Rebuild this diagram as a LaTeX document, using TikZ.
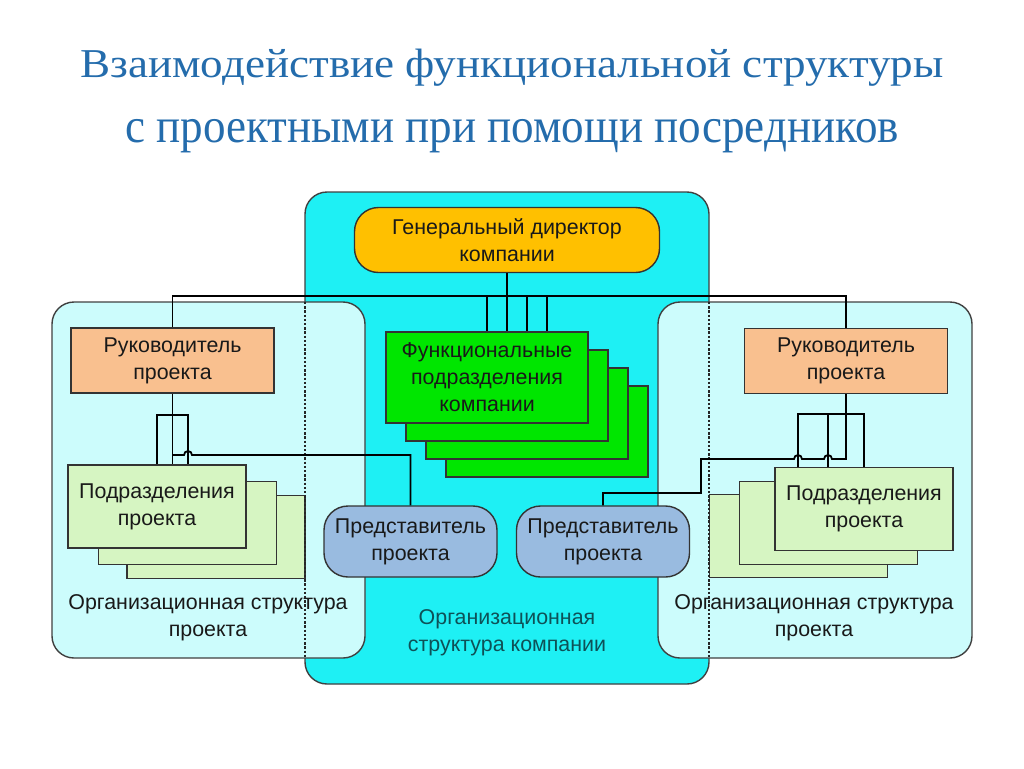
\documentclass[tikz,border=0pt]{standalone}
\usepackage{fontspec}
\setmainfont{Liberation Sans}
\newfontfamily\titlefont{Liberation Serif}[FakeStretch=1.1]
\newfontfamily\subtitlefont{Liberation Serif}[FakeStretch=0.92]
\usetikzlibrary{positioning}

\definecolor{compbg}{HTML}{1EF0F4}
\definecolor{projbg}{HTML}{CCFCFC}
\definecolor{dirfill}{HTML}{FFC000}
\definecolor{mgrfill}{HTML}{F9C08F}
\definecolor{funfill}{HTML}{00E600}
\definecolor{subfill}{HTML}{D6F5C2}
\definecolor{repfill}{HTML}{99BBE0}
\definecolor{titleblue}{HTML}{246CAC}
\definecolor{orgteal}{HTML}{0E5157}

\begin{document}
\begin{tikzpicture}[x=0.5pt,y=-0.5pt,
  txt/.style={align=center, text=black!90, font=\fontsize{10.7}{13.5}\selectfont},
  box/.style={txt, draw=black!80, line width=0.7pt, inner sep=0pt},
  dirbox/.style={box, fill=dirfill, rounded corners=12pt, minimum width=152.5pt, minimum height=32.5pt},
  mgrbox/.style={box, fill=mgrfill, minimum width=101.5pt, minimum height=32.5pt},
  funbox/.style={box, fill=funfill, minimum width=101pt, minimum height=45.5pt},
  subbox/.style={box, fill=subfill, minimum width=89pt, minimum height=41.5pt},
  repbox/.style={box, fill=repfill, rounded corners=12pt, minimum width=86.5pt, minimum height=35.5pt},
  region/.style={draw=black!75, line width=0.7pt, rounded corners=11pt},
  hidden/.style={draw=black!85, line width=0.9pt, dash pattern=on 1.2pt off 0.9pt},
  link/.style={draw=black, line width=0.9pt},
  title/.style={text=titleblue, anchor=base}]

  \useasboundingbox (0,0) rectangle (1024,768);

  % Title
  \node[title, font=\titlefont\fontsize{20.5}{24}\selectfont] (title1) at (512,77)
    {Взаимодействие функциональной структуры};
  \node[title, font=\subtitlefont\fontsize{24.5}{28}\selectfont] (title2) at (512,142)
    {с проектными при помощи посредников};

  % Draw company structure and both project structures
  \draw[region, fill=compbg] (305,192) rectangle (709,684);
  \draw[region, fill=projbg] (52,302) rectangle (365,658);
  \draw[region, fill=projbg] (658,302) rectangle (972,658);

  % Director and functional divisions
  \node[dirbox] (gen) at (507,240) {Генеральный директор\\компании};
  \node[funbox] (fun4) at (547,431.5) {};
  \node[funbox] (fun3) at (527,413.5) {};
  \node[funbox] (fun2) at (507,395.5) {};
  \node[funbox] (fun1) at (487,377.5) {Функциональные\\подразделения\\компании};

  % Project managers
  \node[mgrbox] (mgrL) at (172.5,360.5) {Руководитель\\проекта};
  \node[mgrbox] (mgrR) at (846,361) {Руководитель\\проекта};

  % Project divisions, left and right
  \node[subbox] (subL3) at (216,537) {};
  \node[subbox] (subL2) at (187.5,523) {};
  \node[subbox] (subL1) at (157,506.5) {Подразделения\\проекта};
  \node[subbox] (subR3) at (798.5,536) {};
  \node[subbox] (subR2) at (828.5,523) {};
  \node[subbox] (subR1) at (864,509) {Подразделения\\проекта};

  % Representatives
  \node[repbox] (repL) at (410.5,541.5) {Представитель\\проекта};
  \node[repbox] (repR) at (603,541.5) {Представитель\\проекта};

  % Structure captions
  \node[txt] (orgL) at (208,618) {Организационная структура\\проекта};
  \node[txt] (orgR) at (814,618) {Организационная структура\\проекта};
  \node[txt, text=orgteal] (orgC) at (507,633) {Организационная\\структура компании};

  % Hidden edges of company structure
  \draw[hidden] (305,302) -- (305,658);
  \draw[hidden] (709,302) -- (709,658);

  % Director to managers and functional divisions
  \coordinate (bus) at (507,296);
  \draw[link] (gen.south) -- (bus);
  \draw[link] (mgrL.north) |- (bus) -| (mgrR.north);
  \foreach \x in {487,507,527,547}
    \draw[link] (bus -| \x,0) -- (fun1.north -| \x,0);

  % Left manager to divisions and representative
  \draw[link] (mgrL.south) -- (mgrL.south |- subL1.north);
  \draw[link] (subL1.north) |- (180,415) -| (subL1.north -| 188,0);
  \draw[link] (repL.north) |- (192,455) arc[start angle=0, end angle=-180, radius=4]
    -- (mgrL.south |- 0,455);

  % Right manager to divisions and representative
  \draw[link] (subR1.north -| 798,0) |- (830,414) -| (subR1.north);
  \draw[link] (subR1.north -| 828,0) -- (828,414);
  \draw[link] (repR.north) |- (701,493) |- (794,459)
    arc[start angle=180, end angle=360, radius=4] -- (824,459)
    arc[start angle=180, end angle=360, radius=4] -| (mgrR.south);

\end{tikzpicture}
\end{document}
